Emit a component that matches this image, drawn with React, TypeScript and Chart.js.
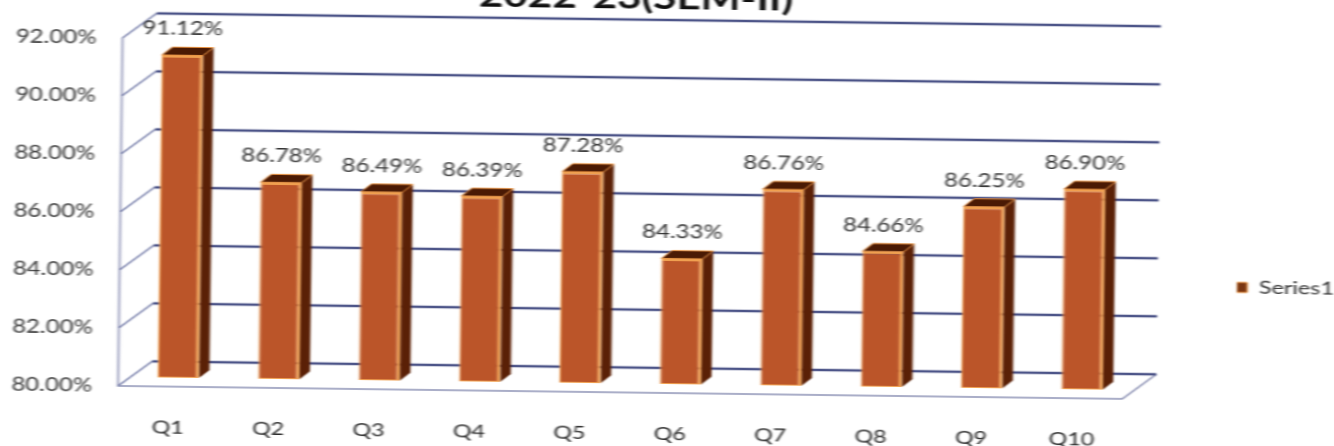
import React, { useEffect, useRef } from "react";
import { Chart, registerables } from "chart.js";

Chart.register(...registerables);

const categories = ["Q1", "Q2", "Q3", "Q4", "Q5", "Q6", "Q7", "Q8", "Q9", "Q10"];
const seriesValues = [91.12, 86.78, 86.49, 86.39, 87.28, 84.33, 86.76, 84.66, 86.25, 86.9];
const seriesName = "Series1";
const chartTitle = "2022-23(SEM-II)";
const axisMin = 80;
const axisMax = 92;

const W = 1026;
const H = 476;
const FONT = "Lato, 'Noto Sans', sans-serif";
const WALL_DX = 26;
const WALL_DY = -25;
const BAR_DX = 7.7;
const BAR_DY = -9;
const SIDE_DX = 8;
const SIDE_DY = -8;

const wall3d = {
  id: "wall3d",
  afterLayout(chart: any) {
    const lg = chart.legend;
    lg.left = 952;
    lg.right = 1026;
    lg.top = 300;
    lg.bottom = 320;
    const t = chart.titleBlock;
    t.left = 0;
    t.right = 2 * 487;
  },
  beforeDatasetsDraw(chart: any) {
    const { ctx, chartArea: a, scales } = chart;
    const y = scales.y;
    ctx.save();
    ctx.strokeStyle = "#8f94b6";
    ctx.lineWidth = 1.5;
    ctx.beginPath();
    ctx.moveTo(a.left, y.getPixelForValue(y.max));
    ctx.lineTo(a.left, y.getPixelForValue(y.min));
    ctx.lineTo(a.right, y.getPixelForValue(y.min));
    ctx.lineTo(a.right + WALL_DX, y.getPixelForValue(y.min) + WALL_DY);
    ctx.stroke();
    y.ticks.forEach((t: any) => {
      const py = y.getPixelForValue(t.value);
      ctx.strokeStyle = "#7d84ae";
      ctx.lineWidth = 1.5;
      ctx.beginPath();
      ctx.moveTo(a.left, py);
      ctx.lineTo(a.left + WALL_DX, py + WALL_DY);
      ctx.stroke();
      ctx.strokeStyle = "#4c5488";
      ctx.lineWidth = 2.6;
      ctx.beginPath();
      ctx.moveTo(a.left + WALL_DX, py + WALL_DY);
      ctx.lineTo(a.right + WALL_DX, py + WALL_DY);
      ctx.stroke();
    });
    const meta = chart.getDatasetMeta(0);
    meta.data.forEach((b: any) => {
      const l = b.x - b.width / 2 + BAR_DX;
      const r = b.x + b.width / 2 + BAR_DX;
      const top = b.y + BAR_DY;
      const bot = b.base + BAR_DY;
      ctx.fillStyle = "#5a2006";
      ctx.beginPath();
      ctx.moveTo(r, top);
      ctx.lineTo(r + SIDE_DX, top + SIDE_DY);
      ctx.lineTo(r + SIDE_DX, bot + SIDE_DY);
      ctx.lineTo(r, bot);
      ctx.closePath();
      ctx.fill();
      ctx.fillStyle = "#4a1a04";
      ctx.strokeStyle = "#e8913f";
      ctx.lineWidth = 1;
      ctx.beginPath();
      ctx.moveTo(l, top);
      ctx.lineTo(l + SIDE_DX, top + SIDE_DY);
      ctx.lineTo(r + SIDE_DX, top + SIDE_DY);
      ctx.lineTo(r, top);
      ctx.closePath();
      ctx.fill();
      ctx.stroke();
    });
    ctx.restore();
    ctx.save();
    ctx.translate(BAR_DX, BAR_DY);
  },
  afterDatasetsDraw(chart: any) {
    const { ctx } = chart;
    ctx.restore();
    ctx.save();
    ctx.font = `18.5px ${FONT}`;
    ctx.fillStyle = "#333333";
    ctx.textAlign = "center";
    ctx.textBaseline = "middle";
    chart.getDatasetMeta(0).data.forEach((b: any, i: number) => {
      ctx.fillText(seriesValues[i].toFixed(2) + "%", b.x + BAR_DX, b.y + BAR_DY - 26);
    });
    ctx.restore();
  },
};

export default function App() {
  const ref = useRef<HTMLCanvasElement>(null);
  useEffect(() => {
    const chart = new Chart(ref.current as HTMLCanvasElement, {
      type: "bar",
      data: {
        labels: categories,
        datasets: [
          {
            label: seriesName,
            data: seriesValues,
            base: axisMin,
            backgroundColor: "#bb5529",
            borderColor: "#f0a050",
            borderWidth: { left: 1, right: 2.5, top: 2.5, bottom: 1 },
            borderSkipped: false,
            categoryPercentage: 1,
            barPercentage: 0.41,
            clip: false,
          } as any,
        ],
      },
      options: {
        responsive: false,
        animation: false,
        layout: { padding: { top: 9.5, right: 161, bottom: 0, left: 0 } },
        plugins: {
          tooltip: { enabled: false },
          title: {
            display: true,
            text: chartTitle,
            color: "#111111",
            font: { family: FONT, size: 32.5, weight: "bold", lineHeight: 1.2 },
            padding: { top: 0, bottom: 26.5 },
          },
          legend: {
            display: true,
            position: "chartArea" as any,
            labels: {
              boxWidth: 8,
              boxHeight: 10,
              padding: 0,
              color: "#333333",
              font: { family: FONT, size: 18 },
              generateLabels: () => [
                {
                  text: seriesName,
                  fillStyle: "#7a3612",
                  strokeStyle: "#e8913f",
                  lineWidth: 1,
                  fontColor: "#333333",
                  datasetIndex: 0,
                },
              ],
            },
          },
        },
        scales: {
          x: {
            grid: { display: false },
            border: { display: false },
            ticks: { color: "#2a2a2a", font: { family: FONT, size: 18 }, padding: 22, maxRotation: 0 },
            afterFit: (s: any) => {
              s.height = 53;
            },
          },
          y: {
            min: axisMin,
            max: axisMax,
            grid: { display: false, drawTicks: false },
            border: { display: false },
            ticks: {
              stepSize: 2,
              color: "#383838",
              font: { family: FONT, size: 18.5 },
              padding: 20,
              callback: (v: any) => Number(v).toFixed(2) + "%",
            },
            afterFit: (s: any) => {
              s.width = 92.5;
            },
          },
        },
      },
      plugins: [wall3d],
    });
    return () => chart.destroy();
  }, []);

  return (
    <div style={{ position: "fixed", left: 0, top: 0, width: 1334, height: 446, overflow: "hidden", background: "#fff" }}>
      <canvas
        ref={ref}
        width={W}
        height={H}
        style={{
          position: "absolute",
          left: (1334 - W) / 2,
          top: -30,
          width: W,
          height: H,
          transformOrigin: "center center",
          transform: "rotate(0.74deg) scaleX(1.3)",
          filter: "blur(0.7px)",
        }}
      />
    </div>
  );
}
